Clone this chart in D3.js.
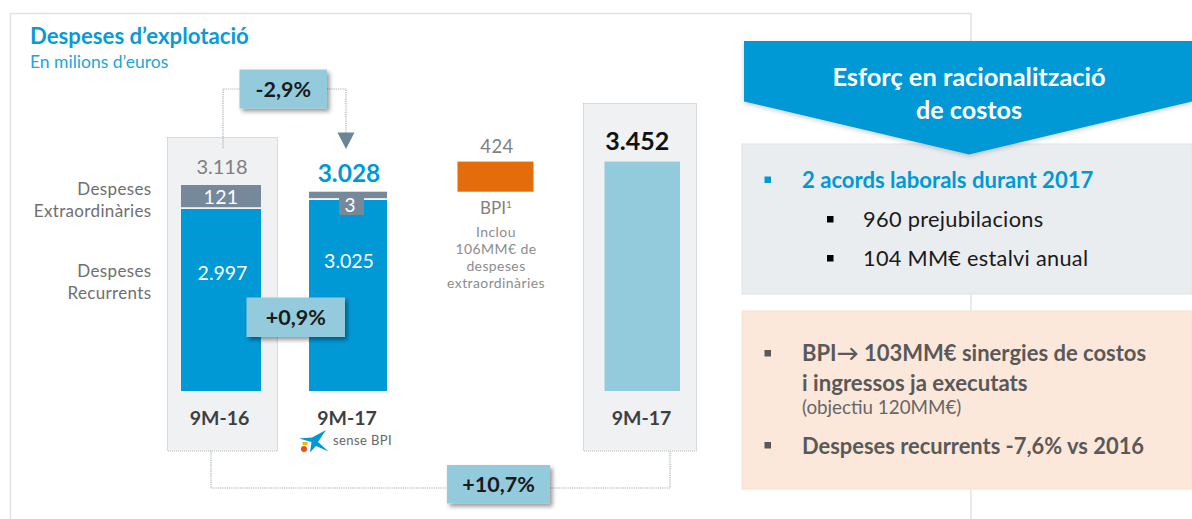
<!DOCTYPE html>
<html><head><meta charset="utf-8">
<script src="https://cdn.jsdelivr.net/npm/d3@7/dist/d3.min.js"></script>
<style>html,body{margin:0;padding:0;background:#fff;overflow:hidden}svg{display:block}text{font-family:Lato,"Open Sans",sans-serif}</style>
</head><body><svg id="c" width="1192" height="519"></svg>
<script>
const categories = ["9M-16", "9M-17", "BPI", "9M-17 total"];
const recurrent = [2997, 3025];
const extraordinary = [121, 3];
const totals = [3118, 3028];
const bpiValue = 424;
const combinedTotal = 3452;
const changes = ["-2,9%", "+0,9%", "+10,7%"];
const bpiNote = ["Inclou", "106MM€ de", "despeses", "extraordinàries"];

const BLUE = "#0099d6", SLATE = "#76899a", LIGHT = "#93cbdd", ORANGE = "#e46c0a", TXT = "#7f7f7f";
const svg = d3.select("#c");
const fmt = d3.formatLocale({decimal: ",", thousands: ".", grouping: [3], currency: ["", "€"]}).format(",d");

const defs = svg.append("defs");
const sh = defs.append("filter").attr("id", "sh").attr("x", "-20%").attr("y", "-30%").attr("width", "150%").attr("height", "170%");
sh.append("feDropShadow").attr("dx", 2.5).attr("dy", 3).attr("stdDeviation", 2.2).attr("flood-color", "#000").attr("flood-opacity", .4);
const sh2 = defs.append("filter").attr("id", "sh2").attr("x", "-5%").attr("y", "-10%").attr("width", "110%").attr("height", "125%");
sh2.append("feDropShadow").attr("dx", 0).attr("dy", 2).attr("stdDeviation", 2).attr("flood-color", "#000").attr("flood-opacity", .18);

// The source chart is not drawn to a single linear scale, so the value axis is piecewise.
const y = d3.scaleLinear()
  .domain([0, 2997, 3025, 3028, 3118, 3452])
  .range([391, 209, 200, 191.7, 185, 161.6]);
const xLeft = d3.scaleOrdinal().domain(categories).range([181, 309, 457.5, 604.5]);
const xWidth = d3.scaleOrdinal().domain(categories).range([80, 78, 76, 75.5]);
const xMid = c => xLeft(c) + xWidth(c) / 2;

function text(s, x, yy, size, fill, o = {}) {
  const t = svg.append("text").attr("x", x).attr("y", yy).attr("font-size", size).attr("fill", fill)
    .attr("text-anchor", o.anchor || "start").attr("font-weight", o.weight || 400).text(s);
  if (o.ls) t.attr("letter-spacing", o.ls);
  return t;
}
function box(x, yy, w, h, fill, stroke) {
  return svg.append("rect").attr("x", x).attr("y", yy).attr("width", w).attr("height", h).attr("fill", fill).attr("stroke", stroke || "none");
}
function dotted(p) {
  svg.append("path").attr("d", d3.line()(p)).attr("fill", "none").attr("stroke", "#a9b1b6").attr("stroke-width", 1.2).attr("stroke-dasharray", "1.2 1");
}

// outer panel
svg.append("path").attr("d", "M10.5,519V13.5H971V519").attr("fill", "none").attr("stroke", "#e2e2e2").attr("stroke-width", 1.4);
text("Despeses d’explotació", 30, 44, 22.2, "#0b9ad6", {weight: 700});
text("En milions d’euros", 30, 68, 17.5, "#22a5d9");

// grey backing panels
box(167.5, 137.5, 110, 313.5, "#eff1f3").attr("stroke", "#b9bfc3").attr("stroke-dasharray", "1 1");
box(583.5, 103.5, 113, 347.5, "#eff1f3").attr("stroke", "#b9bfc3").attr("stroke-dasharray", "1 1");

// connectors
dotted([[223, 148], [223, 89], [240, 89]]);
dotted([[327, 89], [346, 89], [346, 133]]);
svg.append("path").attr("d", "M337.5,132.5H354.5L346,149Z").attr("fill", "#6a8596");
dotted([[211, 451], [211, 488], [447, 488]]);
dotted([[550, 488], [670, 488], [670, 451]]);

// bars
const stackCats = categories.slice(0, 2);
svg.append("g").selectAll("rect").data(recurrent).join("rect")
  .attr("x", (d, i) => xLeft(stackCats[i])).attr("width", (d, i) => xWidth(stackCats[i]))
  .attr("y", d => y(d)).attr("height", d => y(0) - y(d)).attr("fill", BLUE);
svg.append("g").selectAll("rect").data(extraordinary).join("rect")
  .attr("x", (d, i) => xLeft(stackCats[i])).attr("width", (d, i) => xWidth(stackCats[i]))
  .attr("y", (d, i) => y(recurrent[i] + d))
  .attr("height", (d, i) => y(recurrent[i]) - y(recurrent[i] + d) - 1.8).attr("fill", SLATE);
// BPI floats on top of the 9M-17 stack
svg.append("rect").attr("x", xLeft("BPI")).attr("width", xWidth("BPI"))
  .attr("y", y(totals[1] + bpiValue)).attr("height", y(totals[1]) - y(totals[1] + bpiValue)).attr("fill", ORANGE);
svg.append("rect").attr("x", xLeft("9M-17 total")).attr("width", xWidth("9M-17 total"))
  .attr("y", y(combinedTotal)).attr("height", y(0) - y(combinedTotal)).attr("fill", LIGHT);

// tab under the "3" segment
box(339, 198, 25, 17, SLATE);

// values
const mid = m => ({anchor: "middle", ...m});
text(fmt(totals[0]), 222, 174, 20, TXT, mid());
text(fmt(totals[1]), 349, 182, 24.5, BLUE, mid({weight: 700}));
text(fmt(extraordinary[0]), 221, 204, 19.5, "#fff", mid({ls: .4}));
text(fmt(extraordinary[1]), 350, 212, 19, "#fff", mid());
text(fmt(recurrent[0]), 222.5, 280, 19.5, "#fff", mid());
text(fmt(recurrent[1]), 349, 268, 19.5, "#fff", mid());
text(fmt(bpiValue), 497, 153, 18.5, TXT, mid({ls: .4}));
text(fmt(combinedTotal), xMid("9M-17 total") - 5, 150, 25, "#111", mid({weight: 700}));

// side labels
[["Despeses", 195], ["Extraordinàries", 217], ["Despeses", 277], ["Recurrents", 299]].forEach(d =>
  text(d[0], 151.5, d[1], 17, "#6f6f6f", {anchor: "end", ls: .35}));

// BPI label and note
const bt = text("BPI", 496, 214, 17, TXT, mid());
bt.append("tspan").attr("dy", -6).attr("font-size", 10).text("1");
bpiNote.forEach((s, i) => text(s, 496, 236.5 + i * 17.3, 14, "#8c8c8c", mid({ls: .4})));

// category labels
text(categories[0], 219.5, 425, 19.5, "#3f3f3f", mid({weight: 700}));
text(categories[1], 347, 425, 19.5, "#3f3f3f", mid({weight: 700}));
text(categories[1], 641.5, 425, 19.5, "#3f3f3f", mid({weight: 700}));

// CaixaBank star
svg.append("path").attr("fill", BLUE).attr("d", "M299,438.5L312,437.5L326,430L318,442L328.5,451.5L316,446L310,452.5L311.5,442Z");
svg.append("rect").attr("x", 302.5).attr("y", 442).attr("width", 5).attr("height", 3).attr("fill", "#f5b800");
svg.append("circle").attr("cx", 304).attr("cy", 449).attr("r", 3).attr("fill", "#e6501e");
text("sense BPI", 333, 445, 13, "#666", {ls: .4});

// change callouts
[[239.5, 69.5, 87.5, 39], [246.5, 297.5, 98.5, 39.5], [447, 465, 103, 38.5]].forEach((b, i) => {
  box(b[0], b[1], b[2], b[3], LIGHT).attr("filter", "url(#sh)");
  text(changes[i], b[0] + b[2] / 2, b[1] + 27, 21.5, "#1a1a1a", mid({weight: 700}));
});

// right column
box(742, 144, 450, 150, "#eaedf0", "#dfe2e5");
box(742, 311, 450, 178, "#fce8da", "#f9e0cf");
svg.append("path").attr("d", "M744,41H1192V101.5L969,154.5L744,101.5Z").attr("fill", BLUE).attr("filter", "url(#sh2)");
text("Esforç en racionalització", 969, 86, 25.4, "#fff", mid({weight: 700}));
text("de costos", 969, 119, 25.2, "#fff", mid({weight: 700}));

box(764.5, 176.5, 6.5, 6.5, BLUE);
text("2 acords laborals durant 2017", 802, 188, 22.1, BLUE, {weight: 700});
box(827, 216, 6.5, 6.5, "#000");
text("960 prejubilacions", 863, 227, 21.8, "#1a1a1a", {ls: .3});
box(827, 255, 6.5, 6.5, "#000");
text("104 MM€ estalvi anual", 863, 266, 21.7, "#1a1a1a", {ls: .3});

box(764.5, 350, 6.5, 6.5, "#595959");
text("BPI→ 103MM€ sinergies de costos", 802, 361, 22, "#595959", {weight: 700});
text("i ingressos ja executats", 802, 391, 22.2, "#595959", {weight: 700});
text("(objectiu 120MM€)", 802, 414, 18.8, "#666");
box(764.5, 442, 6.5, 6.5, "#595959");
text("Despeses recurrents -7,6% vs 2016", 802, 454, 21.9, "#595959", {weight: 700});
</script></body></html>
